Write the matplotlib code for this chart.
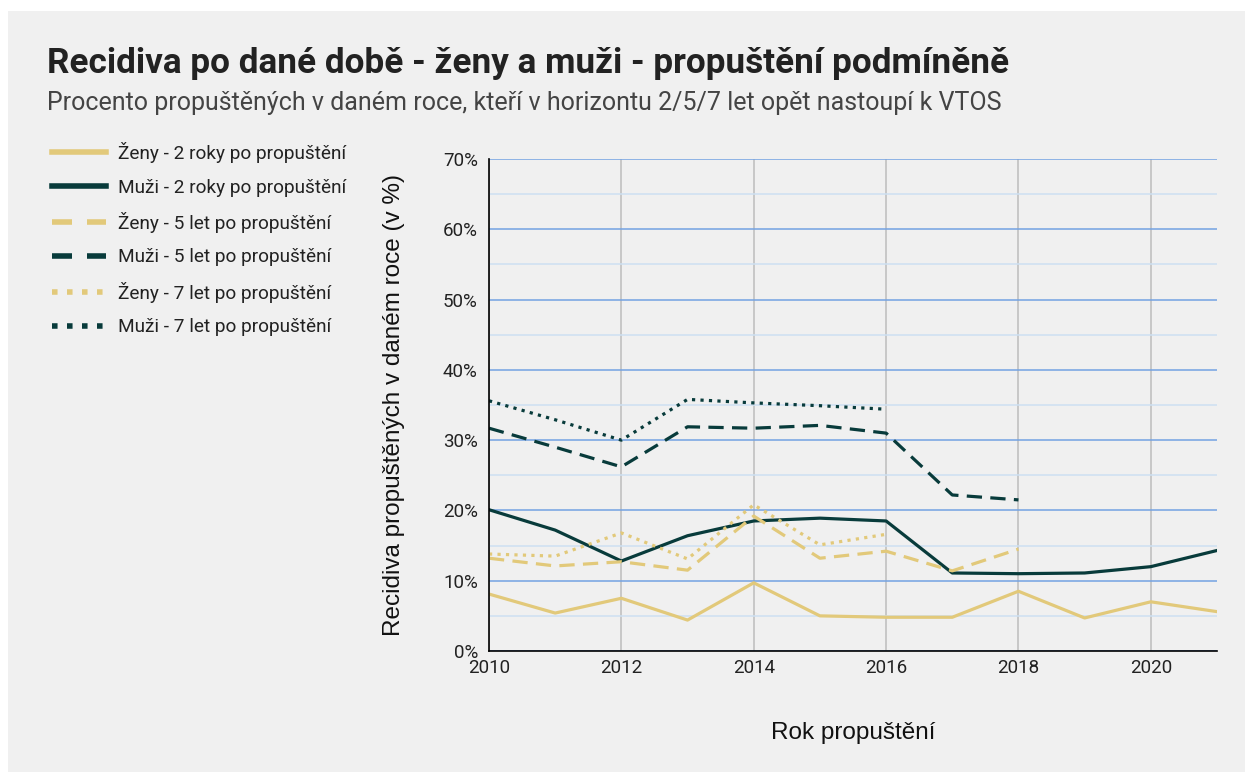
import matplotlib
matplotlib.use('Agg')
import matplotlib.pyplot as plt
from matplotlib.patches import Rectangle
from matplotlib.lines import Line2D
from matplotlib.ticker import MultipleLocator, FuncFormatter

plt.rcParams['font.family'] = ['Roboto', 'DejaVu Sans']
plt.rcParams['lines.scale_dashes'] = False

# data
roky = list(range(2010, 2022))
zeny_2 = [8.1, 5.4, 7.5, 4.4, 9.7, 5.0, 4.8, 4.8, 8.5, 4.7, 7.0, 5.6]
muzi_2 = [20.1, 17.2, 12.8, 16.4, 18.5, 18.9, 18.5, 11.1, 11.0, 11.1, 12.0, 14.3]
roky_5 = list(range(2010, 2019))
zeny_5 = [13.2, 12.1, 12.7, 11.5, 19.2, 13.2, 14.2, 11.4, 14.5]
muzi_5 = [31.7, 29.0, 26.2, 31.9, 31.7, 32.1, 31.0, 22.2, 21.5]
roky_7 = list(range(2010, 2017))
zeny_7 = [13.8, 13.5, 16.8, 13.1, 20.8, 15.1, 16.6]
muzi_7 = [35.6, 32.9, 30.0, 35.8, 35.3, 34.9, 34.4]
popisky = ['Ženy - 2 roky po propuštění', 'Muži - 2 roky po propuštění',
           'Ženy - 5 let po propuštění', 'Muži - 5 let po propuštění',
           'Ženy - 7 let po propuštění', 'Muži - 7 let po propuštění']

zluta = '#e2c97a'
tmava = '#083b3b'

W, H = 1245, 772
fig = plt.figure(figsize=(W / 100, H / 100), dpi=100, facecolor='white')
fig.patches.append(Rectangle((8 / W, 0), 1, 1 - 11 / H, transform=fig.transFigure,
                             facecolor='#f0f0f0', edgecolor='none', zorder=-10))

ax = fig.add_axes([489 / W, 1 - 651 / H, (1217 - 489) / W, (651 - 159) / H])
ax.set_facecolor('#f0f0f0')

lw = 2.3
dash = (0, (11, 6))
dot = (0, (2.3, 3.8))
ax.plot(roky, zeny_2, color=zluta, lw=lw)
ax.plot(roky, muzi_2, color=tmava, lw=lw)
ax.plot(roky_5, zeny_5, color=zluta, lw=lw, ls=dash)
ax.plot(roky_5, muzi_5, color=tmava, lw=lw, ls=dash)
ax.plot(roky_7, zeny_7, color=zluta, lw=lw, ls=dot)
ax.plot(roky_7, muzi_7, color=tmava, lw=lw, ls=dot)

ax.set_xlim(2010, 2021)
ax.set_ylim(0, 70)
ax.xaxis.set_major_locator(MultipleLocator(2))
ax.yaxis.set_major_locator(MultipleLocator(10))
ax.yaxis.set_minor_locator(MultipleLocator(5))
ax.yaxis.set_major_formatter(FuncFormatter(lambda v, p: '%d%%' % v))
ax.grid(axis='y', which='major', color='#74a3e2', lw=1.1)
ax.grid(axis='y', which='minor', color='#cde0f2', lw=1.1)
ax.grid(axis='x', which='major', color='#c4c4c4', lw=1.3)
ax.set_axisbelow(True)
ax.tick_params(which='both', length=0, labelsize=13.5, colors='#222222')
ax.tick_params(axis='y', pad=8)
ax.tick_params(axis='x', pad=6)
for s in ['top', 'right']:
    ax.spines[s].set_visible(False)
for s in ['left', 'bottom']:
    ax.spines[s].set_color('black')
    ax.spines[s].set_linewidth(1.2)

ax.set_xlabel('Rok propuštění', fontsize=17.5, labelpad=32, color='#111111',
              family=['Liberation Sans', 'DejaVu Sans'])
ax.set_ylabel('Recidiva propuštěných v daném roce (v %)', fontsize=17.5, labelpad=27,
              color='#111111', family=['Liberation Sans', 'DejaVu Sans'])

# legenda s tlustsimi carami
lw_leg = 4.0
styly = ['-', '-', (0, (14.4, 10.8)), (0, (14.4, 10.8)), (0, (4, 6.8)), (0, (4, 6.8))]
barvy = [zluta, tmava, zluta, tmava, zluta, tmava]
handles = [Line2D([], [], color=c, lw=lw_leg, ls=s) for c, s in zip(barvy, styly)]
fig.legend(handles, popisky, loc='upper left', bbox_to_anchor=(35 / W, 1 - 125 / H),
           frameon=False, fontsize=13.7, handlelength=2.84, handletextpad=0.63,
           labelspacing=0.81, labelcolor='#222222')

fig.text(47 / W, 1 - 64 / H, 'Recidiva po dané době - ženy a muži - propuštění podmíněně',
         fontsize=25.3, fontweight='bold', color='#222222', va='center')
fig.text(47 / W, 1 - 103 / H,
         'Procento propuštěných v daném roce, kteří v horizontu 2/5/7 let opět nastoupí k VTOS',
         fontsize=18, color='#444444', va='center')

fig.savefig('out.png', dpi=100, facecolor='white')
